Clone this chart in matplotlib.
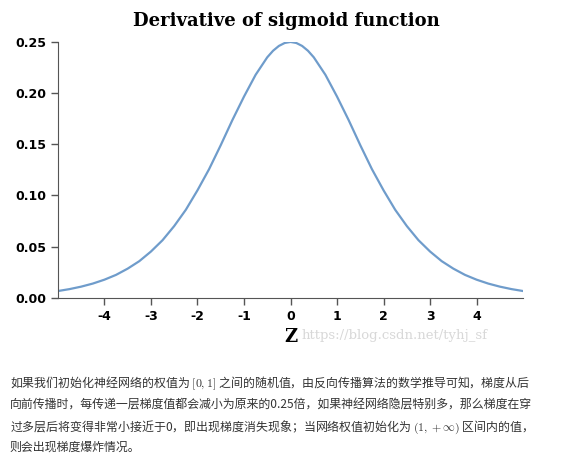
import matplotlib
matplotlib.use("Agg")
import matplotlib.pyplot as plt

# values
z = [-5.0, -4.75, -4.5, -4.25, -4.0, -3.75, -3.5, -3.25, -3.0, -2.75, -2.5, -2.25, -2.0,
     -1.75, -1.5, -1.25, -1.0, -0.75, -0.5, -0.375, -0.25, -0.125, 0.0,
     0.125, 0.25, 0.375, 0.5, 0.75, 1.0, 1.25, 1.5, 1.75, 2.0, 2.25, 2.5, 2.75, 3.0,
     3.25, 3.5, 3.75, 4.0, 4.25, 4.5, 4.75, 5.0]
dz = [0.0066, 0.0085, 0.0109, 0.0139, 0.0177, 0.0224, 0.0285, 0.0358, 0.0452, 0.0563, 0.0701, 0.0860,
      0.1050, 0.1257, 0.1491, 0.1736, 0.1966, 0.2179, 0.2350, 0.2414, 0.2461, 0.2490, 0.2500,
      0.2490, 0.2461, 0.2414, 0.2350, 0.2179, 0.1966, 0.1736, 0.1491, 0.1257, 0.1050, 0.0860, 0.0701, 0.0563, 0.0452,
      0.0358, 0.0285, 0.0224, 0.0177, 0.0139, 0.0109, 0.0085, 0.0066]
xticks = [-4, -3, -2, -1, 0, 1, 2, 3, 4]
yticks = [0.0, 0.05, 0.10, 0.15, 0.20, 0.25]

plt.rcParams['font.family'] = ['Noto Sans CJK SC', 'DejaVu Sans']
plt.rcParams['mathtext.fontset'] = 'cm'

fig = plt.figure(figsize=(5.73, 4.61), dpi=100)
ax = fig.add_axes([0.101, 0.354, 0.812, 0.555])
ax.plot(z, dz, color='#6f9ccb', lw=1.6)
ax.set_xlim(-5, 5)
ax.set_ylim(0, 0.25)
ax.set_xticks(xticks)
ax.set_xticklabels([str(t) for t in xticks], fontsize=9, fontweight='bold', family='DejaVu Sans')
ax.set_yticks(yticks)
ax.set_yticklabels(['%.2f' % t for t in yticks], fontsize=9, fontweight='bold', family='DejaVu Sans')
for s in ['top', 'right']:
    ax.spines[s].set_visible(False)
ax.spines['left'].set_color('#555555')
ax.spines['bottom'].set_color('#555555')
ax.tick_params(length=5, color='#555555', width=1)

fig.text(0.5, 0.955, 'Derivative of sigmoid function', ha='center', va='center',
         fontsize=13, family='DejaVu Serif', fontweight='bold')
fig.text(0.508, 0.269, 'Z', ha='center', va='center', fontsize=13,
         family='DejaVu Serif', fontweight='bold')
fig.text(0.527, 0.272, 'https://blog.csdn.net/tyhj_sf', ha='left', va='center',
         fontsize=9.5, family='DejaVu Serif', color='#d8d8d8')

lines = [
    '如果我们初始化神经网络的权值为 $[0,1]$ 之间的随机值，由反向传播算法的数学推导可知，梯度从后',
    '向前传播时，每传递一层梯度值都会减小为原来的0.25倍，如果神经网络隐层特别多，那么梯度在穿',
    '过多层后将变得非常小接近于0，即出现梯度消失现象；当网络权值初始化为 $(1,+\\infty)$ 区间内的值，',
    '则会出现梯度爆炸情况。',
]
ys = [383, 405, 427, 447]
for t, y in zip(lines, ys):
    fig.text(0.017, 1 - y / 461, t, ha='left', va='center', fontsize=8.6, color='#333333')

fig.savefig('out.png', dpi=100)
